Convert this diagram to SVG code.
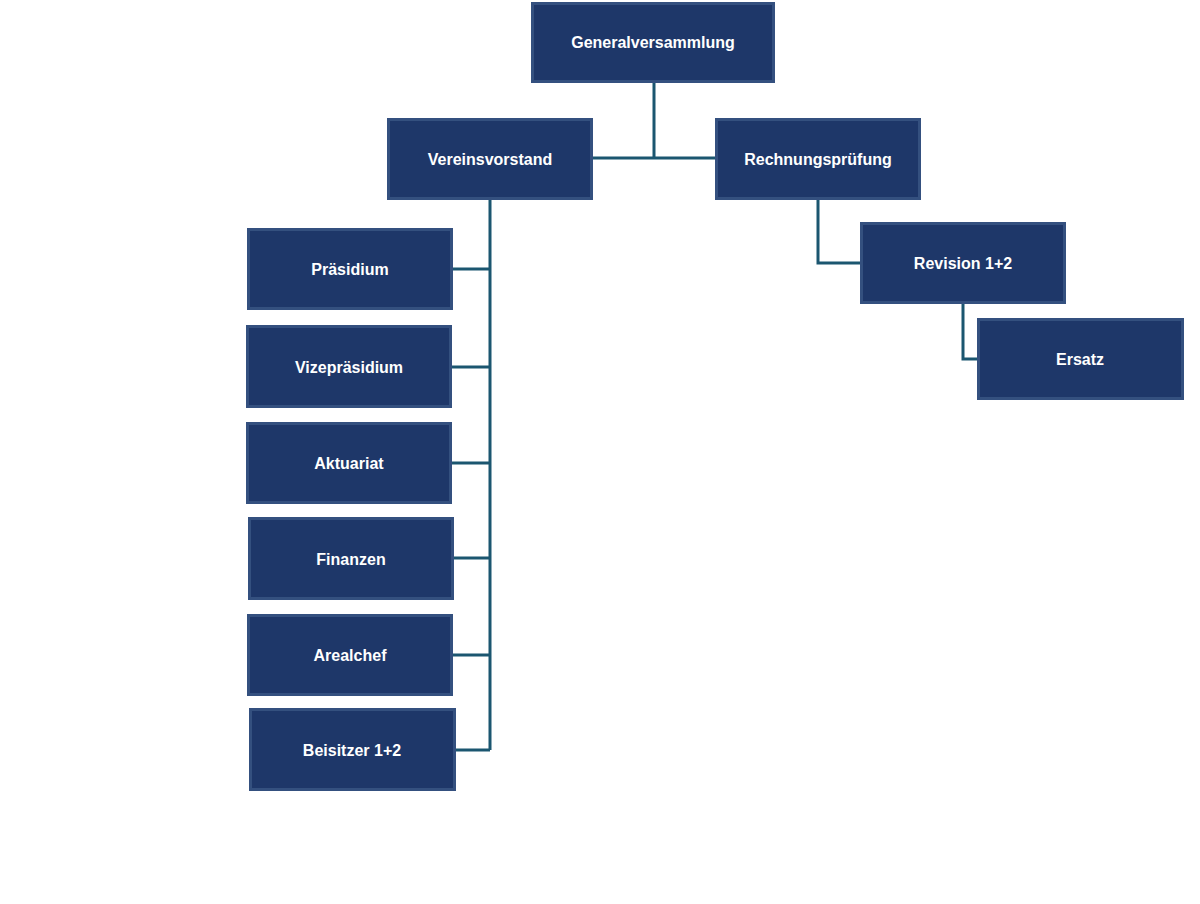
<svg xmlns="http://www.w3.org/2000/svg" width="1200" height="904" viewBox="0 0 1200 904">
<style>
.b{fill:#1e3769;stroke:#34507f;stroke-width:3}
.t{fill:#fff;font-family:"Liberation Sans",Arial,sans-serif;font-weight:bold;font-size:16px;text-anchor:middle;dominant-baseline:central}
.c{fill:none;stroke:#1b5670;stroke-width:3}
</style>
<rect width="1200" height="904" fill="#fff"/>
<g id="connectors">
<path class="c" d="M654 83V158M593 158H715"/>
<path class="c" d="M490 200V750M453 269H490M452 367H490M452 463H490M454 558H490M453 655H490M456 750H490"/>
<path class="c" d="M818 200V263H860M963 304V359H977"/>
</g>
<g id="gv"><rect class="b" x="532.5" y="3.5" width="241" height="78"/><text class="t" x="653" y="42">Generalversammlung</text></g>
<g id="vv"><rect class="b" x="388.5" y="119.5" width="203" height="79"/><text class="t" x="490" y="159">Vereinsvorstand</text></g>
<g id="rp"><rect class="b" x="716.5" y="119.5" width="203" height="79"/><text class="t" x="818" y="159">Rechnungsprüfung</text></g>
<g id="p"><rect class="b" x="248.5" y="229.5" width="203" height="79"/><text class="t" x="350" y="269">Präsidium</text></g>
<g id="vp"><rect class="b" x="247.5" y="326.5" width="203" height="80"/><text class="t" x="349" y="367">Vizepräsidium</text></g>
<g id="ak"><rect class="b" x="247.5" y="423.5" width="203" height="79"/><text class="t" x="349" y="463">Aktuariat</text></g>
<g id="fi"><rect class="b" x="249.5" y="518.5" width="203" height="80"/><text class="t" x="351" y="559">Finanzen</text></g>
<g id="ar"><rect class="b" x="248.5" y="615.5" width="203" height="79"/><text class="t" x="350" y="655">Arealchef</text></g>
<g id="be"><rect class="b" x="250.5" y="709.5" width="204" height="80"/><text class="t" x="352" y="750">Beisitzer 1+2</text></g>
<g id="rv"><rect class="b" x="861.5" y="223.5" width="203" height="79"/><text class="t" x="963" y="263">Revision 1+2</text></g>
<g id="er"><rect class="b" x="978.5" y="319.5" width="204" height="79"/><text class="t" x="1080" y="359">Ersatz</text></g>
</svg>
